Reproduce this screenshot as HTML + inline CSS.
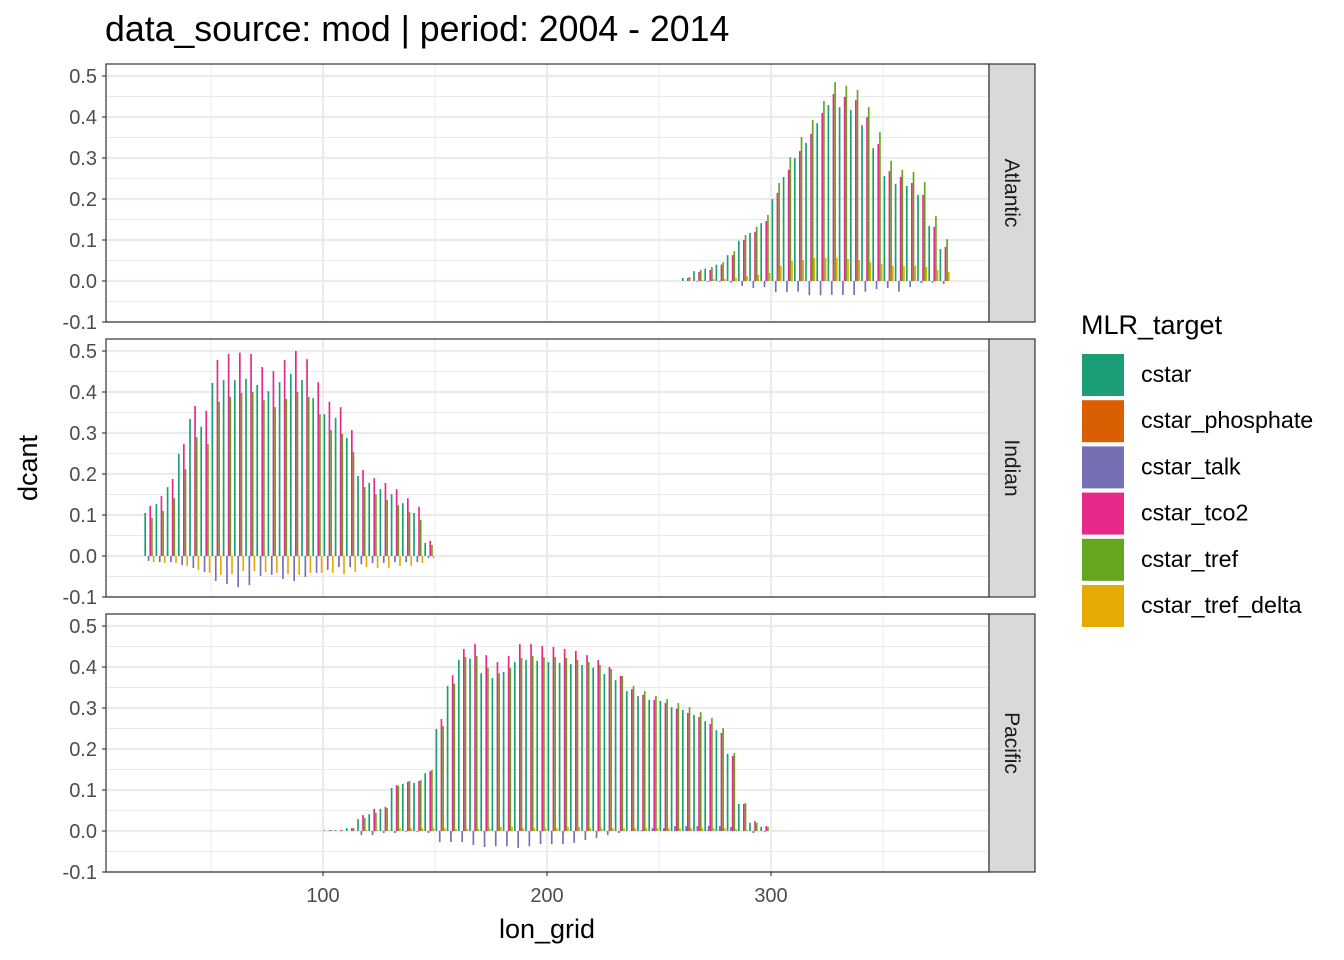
<!DOCTYPE html>
<html><head><meta charset="utf-8"><style>
body{margin:0;background:#fff;}
svg{font-family:"Liberation Sans",sans-serif;display:block}
</style></head><body>
<svg id="chart" width="1344" height="960"></svg>
<script>
const series = ["cstar","cstar_phosphate","cstar_talk","cstar_tco2","cstar_tref","cstar_tref_delta"];
const colors = ["#1B9E77","#D95F02","#7570B3","#E7298A","#66A61E","#E6AB02"];
const basins = ["Atlantic","Indian","Pacific"];
const xTicks = [100,200,300];
const yTicks = [-0.1,0,0.1,0.2,0.3,0.4,0.5];
const yTickLabels = ["-0.1","0.0","0.1","0.2","0.3","0.4","0.5"];

const atlLonStart = 262.5;
const atlCstar = [.007,.024,.03,.04,.063,.098,.117,.141,.2,.254,.3,.337,.385,.429,.424,.417,.38,.324,.256,.237,.232,.21,.134,.078];
const atlTalk = [0,-.002,-.002,-.002,-.004,-.012,-.017,-.015,-.027,-.027,-.026,-.035,-.035,-.034,-.034,-.034,-.026,-.02,-.017,-.026,-.015,-.005,-.004,-.007];
const atlTco2 = [.007,.022,.027,.04,.063,.1,.12,.146,.215,.271,.317,.359,.41,.456,.449,.441,.4,.334,.268,.254,.239,.21,.132,.083];
const atlTref = [.01,.027,.034,.046,.073,.112,.132,.161,.239,.302,.351,.393,.439,.485,.476,.466,.424,.363,.293,.271,.266,.241,.159,.102];
const atlDelta = [0,.002,.005,.005,.007,.012,.015,.02,.037,.049,.051,.056,.056,.056,.054,.051,.046,.041,.037,.037,.037,.034,.027,.022];

const indLonStart = 22.5;
const indCstar = [.105,.127,.168,.249,.334,.315,.422,.429,.429,.432,.417,.402,.424,.444,.429,.385,.346,.337,.288,.195,.178,.163,.151,.129,.105,.032];
const indTalk = [-.012,-.015,-.015,-.022,-.029,-.039,-.061,-.068,-.076,-.071,-.049,-.046,-.056,-.061,-.051,-.041,-.034,-.027,-.027,-.02,-.017,-.017,-.015,-.015,-.015,-.005];
const indTco2 = [.122,.146,.188,.273,.366,.354,.478,.493,.496,.493,.461,.451,.478,.5,.48,.424,.376,.363,.307,.21,.19,.178,.163,.141,.12,.037];
const indTref = [.093,.11,.141,.212,.29,.273,.376,.388,.398,.4,.38,.363,.383,.4,.388,.346,.307,.298,.254,.168,.151,.137,.124,.107,.088,.027];
const indDelta = [-.015,-.017,-.017,-.024,-.034,-.041,-.046,-.044,-.037,-.037,-.039,-.041,-.044,-.046,-.041,-.041,-.041,-.044,-.039,-.027,-.029,-.029,-.024,-.024,-.017,-.005];

const pacLonStart = 102.5;
const pacCstar = [.002,.002,.007,.029,.041,.054,.105,.115,.117,.141,.249,.354,.417,.42,.385,.373,.388,.412,.417,.415,.412,.41,.407,.405,.398,.383,.368,.341,.329,.32,.317,.302,.295,.283,.268,.246,.188,.066,.02,.01];
const pacTalk = [0,0,0,-.01,-.01,-.005,-.005,-.002,-.002,-.005,-.027,-.027,-.027,-.034,-.039,-.037,-.037,-.041,-.037,-.032,-.032,-.032,-.029,-.022,-.017,-.01,-.005,0,.002,.007,.007,.012,.012,.012,.012,.012,.01,0,-.005,-.002];
const pacTco2 = [.002,.002,.007,.039,.054,.059,.112,.12,.122,.146,.273,.38,.444,.456,.429,.412,.427,.456,.456,.451,.449,.444,.439,.429,.417,.4,.378,.346,.332,.32,.312,.298,.288,.278,.261,.239,.183,.066,.024,.012];
const pacTref = [.002,.002,.007,.032,.044,.056,.11,.122,.124,.149,.256,.359,.424,.427,.398,.385,.398,.422,.427,.424,.424,.422,.417,.412,.405,.395,.378,.354,.341,.329,.322,.312,.302,.29,.276,.251,.19,.068,.02,.01];
const pacDelta = [0,0,0,.002,.002,.002,.007,.007,.007,.007,.007,.005,.005,.005,.007,.01,.01,.007,.007,.007,.007,.01,.01,.007,.007,.007,.007,.007,.007,.007,.007,.007,.007,.007,.007,.007,.005,.002,0,0];

const panelData = [
  {start:atlLonStart, vals:[atlCstar,null,atlTalk,atlTco2,atlTref,atlDelta]},
  {start:indLonStart, vals:[indCstar,null,indTalk,indTco2,indTref,indDelta]},
  {start:pacLonStart, vals:[pacCstar,null,pacTalk,pacTco2,pacTref,pacDelta]}
];

const NS="http://www.w3.org/2000/svg";
const svg=document.getElementById('chart');
function mk(tag,attrs,parent,text){const e=document.createElementNS(NS,tag);for(const k in attrs)e.setAttribute(k,attrs[k]);if(text!=null)e.textContent=text;(parent||svg).appendChild(e);return e;}

const PX0=106, PX1=989;
const xScale = v => 323 + (v-100)*2.24;
const panelTops=[64,339,614], PH=258;
const yScaleFor = top => v => top+217 - v*410;
const minorY=[-0.05,0.05,0.15,0.25,0.35,0.45];

let t=mk('text',{x:105,y:41,'font-size':35.7,fill:'#000'},svg,'data_source: mod | period: 2004 - 2014');



panelTops.forEach((top,pi)=>{
  const y=yScaleFor(top);
  const g=mk('g',{});
  
  
  mk('rect',{x:PX0,y:top,width:PX1-PX0,height:PH,fill:'#fff'},g);
  minorY.forEach(v=>mk('line',{x1:PX0,x2:PX1,y1:y(v),y2:y(v),stroke:'#EBEBEB','stroke-width':1},g));
  [50,150,250,350].forEach(v=>mk('line',{x1:xScale(v),x2:xScale(v),y1:top,y2:top+PH,stroke:'#EBEBEB','stroke-width':1},g));
  yTicks.forEach(v=>mk('line',{x1:PX0,x2:PX1,y1:y(v),y2:y(v),stroke:'#EBEBEB','stroke-width':2.2},g));
  xTicks.forEach(v=>mk('line',{x1:xScale(v),x2:xScale(v),y1:top,y2:top+PH,stroke:'#EBEBEB','stroke-width':2.2},g));
  const pd=panelData[pi];
  const bw=0.75*2.24;
  pd.vals.forEach((arr,si)=>{
    if(!arr)return;
    arr.forEach((v,i)=>{
      const c=xScale(pd.start+5*i);
      const x=c-3*bw+si*bw;
      const y0=y(0), y1=y(v);
      const r=mk('rect',{x:x,y:Math.min(y0,y1),width:bw,height:Math.abs(y1-y0),fill:colors[si]},g);
      
      
    });
  });
  mk('rect',{x:PX0,y:top,width:PX1-PX0,height:PH,fill:'none',stroke:'#333','stroke-width':1.2},g);
  yTicks.forEach((v,i)=>{
    mk('line',{x1:PX0-4,x2:PX0,y1:y(v),y2:y(v),stroke:'#333','stroke-width':1.1},g);
    const l=mk('text',{x:PX0-9,y:y(v)+7,'text-anchor':'end','font-size':20,fill:'#4D4D4D'},g,yTickLabels[i]);
    
    
  });
  const s=mk('g',{});
  
  
  mk('rect',{x:PX1,y:top,width:46,height:PH,fill:'#D9D9D9',stroke:'#333','stroke-width':1.2},s);
  mk('text',{x:0,y:0,'font-size':21,fill:'#1A1A1A','text-anchor':'middle',transform:`translate(${PX1+16},${top+PH/2}) rotate(90)`},s,basins[pi]);
});

const bt=panelTops[2]+PH;
xTicks.forEach(v=>{
  mk('line',{x1:xScale(v),x2:xScale(v),y1:bt,y2:bt+4,stroke:'#333','stroke-width':1.1});
  const l=mk('text',{x:xScale(v),y:bt+30,'text-anchor':'middle','font-size':20,fill:'#4D4D4D'},svg,String(v));
  
  
});
t=mk('text',{x:547,y:938,'text-anchor':'middle','font-size':27,fill:'#000'},svg,'lon_grid');


t=mk('text',{x:0,y:0,'text-anchor':'middle','font-size':27,fill:'#000',transform:'translate(37,468) rotate(-90)'},svg,'dcant');



const lg=mk('g',{});


mk('text',{x:1081,y:334,'font-size':27,fill:'#000'},lg,'MLR_target');
series.forEach((s,i)=>{
  const e=mk('g',{},lg);
  
  
  mk('rect',{x:1082,y:354+i*46.2,width:42,height:42,fill:colors[i]},e);
  mk('text',{x:1141,y:382+i*46.2,'font-size':23.3,fill:'#000'},e,s);
});
</script>
</body></html>
